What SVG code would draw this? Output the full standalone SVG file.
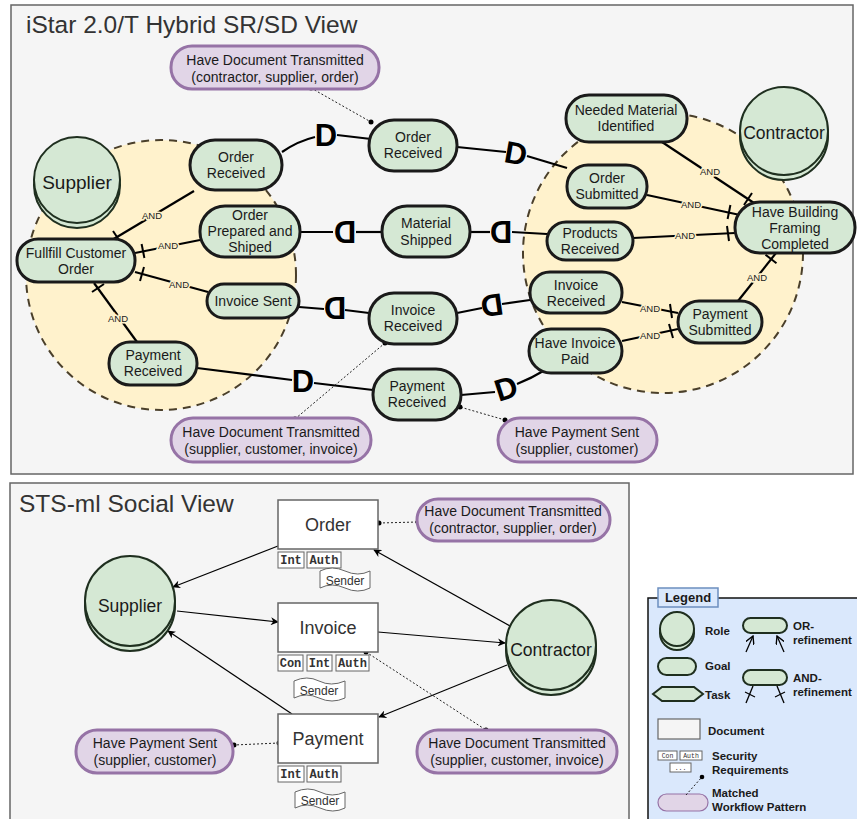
<svg xmlns="http://www.w3.org/2000/svg" width="857" height="819" viewBox="0 0 857 819">
<defs>
<style>
text{font-family:"Liberation Sans",Arial,sans-serif;fill:#1a1a1a}
.panel{fill:#f5f5f5;stroke:#666;stroke-width:1.5}
.title{font-size:24.5px;fill:#333}
.bound{fill:#fff2cc;stroke:#4a3f2a;stroke-width:2;stroke-dasharray:8 6}
.role{fill:#d5e8d4;stroke:#1f2f1f;stroke-width:2}
.goal{fill:#d5e8d4;stroke:#1a1a1a;stroke-width:3}
.gt{font-size:14px;text-anchor:middle}
.pat{fill:#e1d5e7;stroke:#9673a6;stroke-width:3}
.link{fill:none;stroke:#000;stroke-width:2.2}
.dot{fill:none;stroke:#222;stroke-width:1;stroke-dasharray:2 2}
.dd{font-size:31px;font-weight:bold;text-anchor:middle;fill:#000}
.and{font-size:9.5px;text-anchor:middle;paint-order:stroke;stroke:#fff2cc;stroke-width:3px;fill:#222}
.x{stroke:#000;stroke-width:2}
.doc{fill:#fff;stroke:#666;stroke-width:1.5}
.sec{fill:#fff;stroke:#666;stroke-width:1}
.st{font-family:"Liberation Mono","Courier New",monospace;font-weight:bold;font-size:12px;text-anchor:middle;fill:#333}
.snd{font-size:12px;text-anchor:middle;fill:#333}
.dt{font-size:18px;text-anchor:middle;fill:#333}
.arr{fill:none;stroke:#000;stroke-width:1.2;marker-end:url(#ah)}
.lg{font-size:11.5px;font-weight:bold}
.lm{font-family:"Liberation Mono",monospace;font-size:6.5px;text-anchor:middle;fill:#333}
</style>
<marker id="ah" viewBox="0 0 10 10" refX="9" refY="5" markerWidth="8" markerHeight="8" orient="auto" markerUnits="userSpaceOnUse">
<path d="M0,0 L10,5 L0,10 L3,5 Z" fill="#000"/>
</marker>
<marker id="oa" viewBox="0 0 10 10" refX="9" refY="5" markerWidth="9" markerHeight="9" orient="auto" markerUnits="userSpaceOnUse">
<path d="M0,0 L9,5 L0,10" fill="none" stroke="#000" stroke-width="1.5"/>
</marker>
</defs>

<!-- Panels -->
<rect class="panel" x="11" y="5" width="842" height="469"/>
<text class="title" x="26" y="33">iStar 2.0/T Hybrid SR/SD View</text>
<rect class="panel" x="10" y="483" width="619" height="345"/>
<text class="title" x="19" y="512">STS-ml Social View</text>

<!-- Actor boundaries -->
<g id="supplier-boundary"><circle class="bound" cx="161" cy="275" r="135"/></g>
<g id="contractor-boundary"><circle class="bound" cx="663" cy="253" r="140"/></g>

<!-- Connectors -->
<g id="connectors">
<path class="link" d="M282,152 Q298,141 315,137"/>
<path class="link" d="M337,135 L371,139"/>
<path class="link" d="M457,147 L506,152"/>
<path class="link" d="M527,156 L567,168"/>
<path class="link" d="M300,232 L333,232"/>
<path class="link" d="M356,232 L382,232"/>
<path class="link" d="M470,232 L490,232"/>
<path class="link" d="M512,232 L547,234"/>
<path class="link" d="M299,307 L324,309"/>
<path class="link" d="M345,310 L369,313"/>
<path class="link" d="M457,313 L482,308"/>
<path class="link" d="M502,304 L530,300"/>
<path class="link" d="M197,368 L292,380"/>
<path class="link" d="M314,383 L373,390"/>
<path class="link" d="M461,395 L495,392"/>
<path class="link" d="M517,384 Q532,378 545,370"/>
<text class="dd" x="326" y="146">D</text>
<text class="dd" transform="translate(516,153) rotate(10)" x="0" y="11">D</text>
<text class="dd" transform="translate(345,232) scale(-1,1)" x="0" y="11">D</text>
<text class="dd" transform="translate(501,232) scale(-1,1)" x="0" y="11">D</text>
<text class="dd" transform="translate(335,308) scale(-1,1)" x="0" y="11">D</text>
<text class="dd" transform="translate(492,305) scale(-1,1) rotate(8)" x="0" y="11">D</text>
<text class="dd" x="303" y="392">D</text>
<text class="dd" transform="translate(506,388) rotate(-18)" x="0" y="11">D</text>

<path class="link" d="M194,191 L112,240"/>
<path class="link" d="M200,240 L135,253"/>
<path class="link" d="M208,292 L135,272"/>
<path class="link" d="M137,342 L94,283"/>
<path class="link" d="M662,142 L754,203"/>
<path class="link" d="M647,195 L740,215"/>
<path class="link" d="M633,238 L735,233"/>
<path class="link" d="M738,301 L776,253"/>
<path class="link" d="M622,302 L678,313"/>
<path class="link" d="M622,341 L678,329"/>
<line class="x" x1="113" y1="231" x2="121" y2="243"/>
<line class="x" x1="141.6" y1="244" x2="144.4" y2="258"/>
<line class="x" x1="144" y1="267" x2="140" y2="281"/>
<line class="x" x1="92" y1="292" x2="104" y2="284"/>
<line class="x" x1="744" y1="205" x2="752" y2="193"/>
<line class="x" x1="727.6" y1="219" x2="730.4" y2="205"/>
<line class="x" x1="727" y1="226" x2="729" y2="241"/>
<line class="x" x1="765.5" y1="254.7" x2="776.5" y2="263.3"/>
<line class="x" x1="670" y1="304" x2="672" y2="318"/>
<line class="x" x1="669" y1="324" x2="673" y2="338"/>
<text class="and" x="152" y="219">AND</text>
<text class="and" x="168" y="249">AND</text>
<text class="and" x="179" y="288">AND</text>
<text class="and" x="118" y="322">AND</text>
<text class="and" x="710" y="175">AND</text>
<text class="and" x="691" y="208">AND</text>
<text class="and" x="685" y="239">AND</text>
<text class="and" x="757" y="281">AND</text>
<text class="and" x="650" y="312">AND</text>
<text class="and" x="650" y="339">AND</text>

<line class="dot" x1="311" y1="88" x2="371" y2="122"/>
<circle cx="311" cy="88" r="2.5" fill="#000"/><circle cx="371" cy="122" r="2.5" fill="#000"/>
<line class="dot" x1="295" y1="419" x2="385" y2="343"/>
<circle cx="295" cy="419" r="2.5" fill="#000"/><circle cx="385" cy="343" r="2.5" fill="#000"/>
<line class="dot" x1="505" y1="420" x2="460" y2="407"/>
<circle cx="505" cy="420" r="2.5" fill="#000"/><circle cx="460" cy="407" r="2.5" fill="#000"/>

<path class="arr" d="M278,546 L173,587"/>
<path class="arr" d="M510,626 L374,550"/>
<path class="arr" d="M177,611 L278,622"/>
<path class="arr" d="M378,632 L505,643"/>
<path class="arr" d="M507,665 L379,717"/>
<path class="arr" d="M292,714 L168,631"/>
<line class="dot" x1="379" y1="523" x2="418" y2="522"/>
<circle cx="379" cy="523" r="2.5" fill="#000"/><circle cx="418" cy="522" r="2.5" fill="#000"/>
<line class="dot" x1="366" y1="652" x2="486" y2="730"/>
<circle cx="366" cy="652" r="2.5" fill="#000"/><circle cx="486" cy="730" r="2.5" fill="#000"/>
<line class="dot" x1="279" y1="743" x2="234" y2="745"/>
<circle cx="279" cy="743" r="2.5" fill="#000"/><circle cx="234" cy="745" r="2.5" fill="#000"/>
</g>

<g id="supplier-top"><circle class="role" cx="77" cy="185" r="43"/><circle class="role" cx="77" cy="180" r="43"/><text x="77" y="189" font-size="19" text-anchor="middle">Supplier</text></g>
<g id="contractor-top"><circle class="role" cx="784" cy="136" r="44"/><circle class="role" cx="784" cy="131" r="44"/><text x="784" y="139" font-size="17.5" text-anchor="middle">Contractor</text></g>

<g id="g-order-received-s"><rect class="goal" x="190" y="140" width="92" height="50" rx="25"/><text class="gt" x="236" y="162">Order</text><text class="gt" x="236" y="178">Received</text></g>
<g id="g-order-prepared"><rect class="goal" x="200" y="206" width="100" height="51" rx="25"/><text class="gt" x="250" y="220">Order</text><text class="gt" x="250" y="236">Prepared and</text><text class="gt" x="250" y="252">Shiped</text></g>
<g id="g-fullfill"><rect class="goal" x="17" y="239" width="118" height="43" rx="21"/><text class="gt" x="76" y="258">Fullfill Customer</text><text class="gt" x="76" y="274">Order</text></g>
<g id="g-invoice-sent"><rect class="goal" x="207" y="284" width="92" height="34" rx="17"/><text class="gt" x="253" y="306">Invoice Sent</text></g>
<g id="g-payment-received-s"><rect class="goal" x="109" y="342" width="88" height="43" rx="21"/><text class="gt" x="153" y="360">Payment</text><text class="gt" x="153" y="376">Received</text></g>

<g id="g-order-received-m"><rect class="goal" x="369" y="120" width="88" height="51" rx="25"/><text class="gt" x="413" y="142">Order</text><text class="gt" x="413" y="158">Received</text></g>
<g id="g-material-shipped"><rect class="goal" x="382" y="206" width="88" height="51" rx="25"/><text class="gt" x="426" y="228">Material</text><text class="gt" x="426" y="245">Shipped</text></g>
<g id="g-invoice-received-m"><rect class="goal" x="369" y="293" width="88" height="51" rx="25"/><text class="gt" x="413" y="315">Invoice</text><text class="gt" x="413" y="331">Received</text></g>
<g id="g-payment-received-m"><rect class="goal" x="373" y="369" width="88" height="51" rx="25"/><text class="gt" x="417" y="391">Payment</text><text class="gt" x="417" y="407">Received</text></g>

<g id="g-needed-material"><rect class="goal" x="566" y="95" width="121" height="47" rx="23"/><text class="gt" x="626" y="115">Needed Material</text><text class="gt" x="626" y="131">Identified</text></g>
<g id="g-order-submitted"><rect class="goal" x="567" y="165" width="80" height="43" rx="21"/><text class="gt" x="607" y="183">Order</text><text class="gt" x="607" y="199">Submitted</text></g>
<g id="g-products-received"><rect class="goal" x="547" y="222" width="86" height="38" rx="19"/><text class="gt" x="590" y="238">Products</text><text class="gt" x="590" y="254">Received</text></g>
<g id="g-have-building"><rect class="goal" x="735" y="202" width="120" height="51" rx="25"/><text class="gt" x="795" y="217">Have Building</text><text class="gt" x="795" y="233">Framing</text><text class="gt" x="795" y="249">Completed</text></g>
<g id="g-invoice-received-c"><rect class="goal" x="530" y="272" width="92" height="41" rx="20"/><text class="gt" x="576" y="290">Invoice</text><text class="gt" x="576" y="306">Received</text></g>
<g id="g-have-invoice-paid"><rect class="goal" x="529" y="329" width="93" height="44" rx="22"/><text class="gt" x="575" y="348">Have Invoice</text><text class="gt" x="575" y="364">Paid</text></g>
<g id="g-payment-submitted"><rect class="goal" x="678" y="301" width="84" height="42" rx="21"/><text class="gt" x="720" y="319">Payment</text><text class="gt" x="720" y="335">Submitted</text></g>

<g id="p-top-order"><rect class="pat" x="171" y="46" width="208" height="43" rx="21"/><text class="gt" x="275" y="65">Have Document Transmitted</text><text class="gt" x="275" y="82">(contractor, supplier, order)</text></g>
<g id="p-top-invoice"><rect class="pat" x="171" y="418" width="200" height="44" rx="22"/><text class="gt" x="271" y="437">Have Document Transmitted</text><text class="gt" x="271" y="454">(supplier, customer, invoice)</text></g>
<g id="p-top-payment"><rect class="pat" x="498" y="418" width="159" height="44" rx="22"/><text class="gt" x="577" y="437">Have Payment Sent</text><text class="gt" x="577" y="454">(supplier, customer)</text></g>

<g id="supplier-bottom"><circle class="role" cx="130" cy="606" r="45"/><circle class="role" cx="130" cy="601" r="45"/><text x="130" y="612" font-size="17.5" text-anchor="middle">Supplier</text></g>
<g id="contractor-bottom"><circle class="role" cx="551" cy="650" r="45"/><circle class="role" cx="551" cy="645" r="45"/><text x="551" y="656" font-size="17.5" text-anchor="middle">Contractor</text></g>

<g id="doc-order"><rect class="doc" x="278" y="500" width="100" height="49"/><text class="dt" x="328" y="531">Order</text>
<rect class="sec" x="278" y="552" width="26" height="16"/><text class="st" x="291" y="564">Int</text>
<rect class="sec" x="307" y="552" width="34" height="16"/><text class="st" x="324" y="564">Auth</text>
<path class="sec" d="M320,571 Q332,565 345,571 T370,571 L370,588 Q358,594 345,588 T320,588 Z"/><text class="snd" x="345" y="585">Sender</text></g>

<g id="doc-invoice"><rect class="doc" x="278" y="603" width="100" height="49"/><text class="dt" x="328" y="634">Invoice</text>
<rect class="sec" x="278" y="655" width="25" height="16"/><text class="st" x="290.5" y="667">Con</text>
<rect class="sec" x="307" y="655" width="25" height="16"/><text class="st" x="319.5" y="667">Int</text>
<rect class="sec" x="336" y="655" width="33" height="16"/><text class="st" x="352.5" y="667">Auth</text>
<path class="sec" d="M294,681 Q307,675 319,681 T345,681 L345,698 Q332,704 319,698 T294,698 Z"/><text class="snd" x="319" y="695">Sender</text></g>

<g id="doc-payment"><rect class="doc" x="278" y="714" width="100" height="49"/><text class="dt" x="328" y="745">Payment</text>
<rect class="sec" x="278" y="766" width="26" height="16"/><text class="st" x="291" y="778">Int</text>
<rect class="sec" x="307" y="766" width="34" height="16"/><text class="st" x="324" y="778">Auth</text>
<path class="sec" d="M295,792 Q308,786 320,792 T345,792 L345,808 Q333,814 320,808 T295,808 Z"/><text class="snd" x="320" y="805">Sender</text></g>

<g id="p-bot-order"><rect class="pat" x="417" y="499" width="193" height="42" rx="21"/><text class="gt" x="513" y="516">Have Document Transmitted</text><text class="gt" x="513" y="533">(contractor, supplier, order)</text></g>
<g id="p-bot-invoice"><rect class="pat" x="417" y="730" width="200" height="43" rx="21"/><text class="gt" x="517" y="748">Have Document Transmitted</text><text class="gt" x="517" y="765">(supplier, customer, invoice)</text></g>
<g id="p-bot-payment"><rect class="pat" x="76" y="730" width="157" height="43" rx="21"/><text class="gt" x="155" y="748">Have Payment Sent</text><text class="gt" x="155" y="765">(supplier, customer)</text></g>

<g id="legend">
<rect x="648" y="598" width="212" height="230" fill="#dae8fc" stroke="#111" stroke-width="1.5"/>
<rect x="658" y="588" width="60" height="19" fill="#dae8fc" stroke="#6c8ebf" stroke-width="1.5"/>
<text x="688" y="602" font-size="13" font-weight="bold" text-anchor="middle">Legend</text>
<circle class="role" cx="677" cy="633" r="17" stroke-width="1.2"/><circle class="role" cx="677" cy="629" r="17" stroke-width="1.2"/>
<text class="lg" x="705" y="635">Role</text>
<rect class="role" x="658" y="658" width="38" height="17" rx="8.5" stroke-width="1.2"/>
<text class="lg" x="705" y="670">Goal</text>
<path class="role" d="M653,694 L662,687 L694,687 L703,694 L694,701 L662,701 Z" stroke-width="1.2"/>
<text class="lg" x="705" y="699">Task</text>
<rect class="role" x="743" y="618" width="44" height="15" rx="7.5" stroke-width="1.2"/>
<line x1="746" y1="652" x2="753" y2="636" stroke="#000" stroke-width="1.3" marker-end="url(#oa)"/>
<line x1="784" y1="652" x2="777" y2="636" stroke="#000" stroke-width="1.3" marker-end="url(#oa)"/>
<text class="lg" x="793" y="630">OR-</text>
<text class="lg" x="793" y="644">refinement</text>
<rect class="role" x="743" y="670" width="44" height="15" rx="7.5" stroke-width="1.2"/>
<line x1="746" y1="703" x2="753" y2="686" stroke="#000" stroke-width="1.3"/>
<line x1="784" y1="703" x2="777" y2="686" stroke="#000" stroke-width="1.3"/>
<line x1="745" y1="692" x2="755" y2="697" stroke="#000" stroke-width="1.2"/>
<line x1="785" y1="692" x2="775" y2="697" stroke="#000" stroke-width="1.2"/>
<text class="lg" x="793" y="682">AND-</text>
<text class="lg" x="793" y="696">refinement</text>
<rect x="658" y="719" width="42" height="20" fill="#f5f5f5" stroke="#666" stroke-width="1.2"/>
<text class="lg" x="708" y="735">Document</text>
<rect class="sec" x="658" y="751" width="19" height="9"/><text class="lm" x="667.5" y="758">Con</text>
<rect class="sec" x="680" y="751" width="22" height="9"/><text class="lm" x="691" y="758">Auth</text>
<rect class="sec" x="670" y="763" width="21" height="9"/><text class="lm" x="680.5" y="770">...</text>
<text class="lg" x="712" y="760">Security</text>
<text class="lg" x="712" y="774">Requirements</text>
<rect x="658" y="794" width="50" height="17" rx="8.5" fill="#e1d5e7" stroke="#9673a6" stroke-width="1.2"/>
<line class="dot" x1="686" y1="795" x2="702" y2="777"/>
<circle cx="702" cy="777" r="2.3" fill="#000"/>
<text class="lg" x="712" y="797">Matched</text>
<text class="lg" x="712" y="811">Workflow Pattern</text>
</g>
</svg>
